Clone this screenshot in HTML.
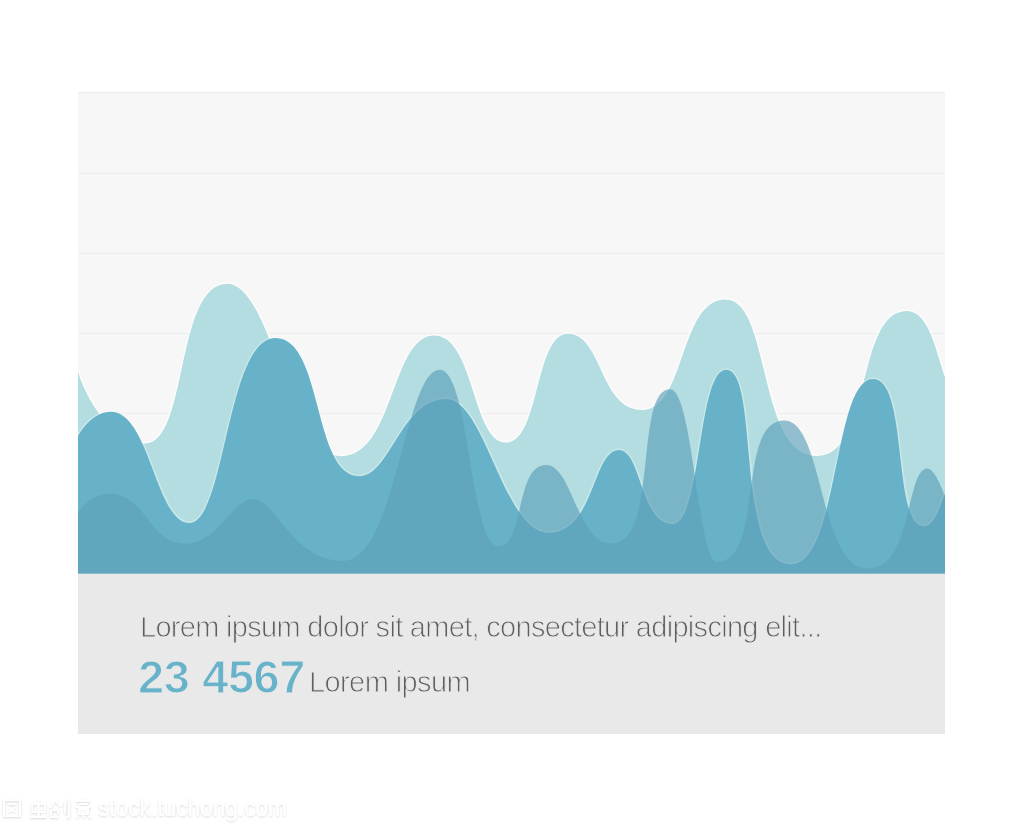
<!DOCTYPE html>
<html><head><meta charset="utf-8">
<style>
html,body{margin:0;padding:0;background:#ffffff;}
body{width:1023px;height:827px;position:relative;overflow:hidden;font-family:"Liberation Sans",sans-serif;}
.t{position:absolute;white-space:nowrap;line-height:1;will-change:transform;paint-order:fill stroke;}
</style></head><body>
<svg width="1023" height="827" style="position:absolute;left:0;top:0">
<rect x="78" y="92" width="867" height="482" fill="#f7f7f7"/>
<rect x="78" y="573.5" width="867" height="160.5" fill="#e9e9e9"/>
<rect x="78" y="92" width="867" height="1.2" fill="#ededed"/>
<rect x="78" y="173" width="867" height="1" fill="#ededed"/>
<rect x="78" y="253" width="867" height="1" fill="#ededed"/>
<rect x="78" y="333" width="867" height="1" fill="#ededed"/>
<rect x="78" y="413" width="867" height="1" fill="#ededed"/>
<path d="M78.0,372.0 C89.6,409.0 118.1,443.5 145.0,443.5 C188.5,443.5 174.9,283.7 227.6,283.7 C270.7,283.7 290.7,456.2 341.0,456.2 C394.2,456.2 391.1,335.5 434.2,335.5 C474.6,335.5 472.0,442.6 506.0,442.6 C540.0,442.6 534.5,333.8 567.9,333.8 C602.2,333.8 599.8,410.0 641.9,410.0 C685.7,410.0 679.3,299.4 725.5,299.4 C771.1,299.4 756.8,456.0 817.0,456.0 C872.2,456.0 855.5,311.0 906.7,311.0 C928.1,311.0 935.1,347.6 945.0,377.3" fill="none" stroke="rgba(255,255,255,0.6)" stroke-width="3"/>
<path d="M78,573.5 L78.0,372.0 C89.6,409.0 118.1,443.5 145.0,443.5 C188.5,443.5 174.9,283.7 227.6,283.7 C270.7,283.7 290.7,456.2 341.0,456.2 C394.2,456.2 391.1,335.5 434.2,335.5 C474.6,335.5 472.0,442.6 506.0,442.6 C540.0,442.6 534.5,333.8 567.9,333.8 C602.2,333.8 599.8,410.0 641.9,410.0 C685.7,410.0 679.3,299.4 725.5,299.4 C771.1,299.4 756.8,456.0 817.0,456.0 C872.2,456.0 855.5,311.0 906.7,311.0 C928.1,311.0 935.1,347.6 945.0,377.3 L945,573.5 Z" fill="#b3dde0"/>
<path d="M78.0,436.3 C81.8,428.7 94.1,411.8 110.9,411.8 C149.6,411.8 156.0,523.0 189.3,523.0 C225.6,523.0 226.6,338.0 275.5,338.0 C323.3,338.0 312.6,476.2 359.3,476.2 C390.5,476.2 400.8,399.0 446.2,399.0 C485.1,399.0 503.8,532.8 548.3,532.8 C595.0,532.8 592.4,450.0 619.0,450.0 C641.4,450.0 640.2,524.0 672.4,524.0 C702.0,524.0 697.3,369.7 726.2,369.7 C760.3,369.7 734.4,564.3 790.8,564.3 C839.3,564.3 833.1,379.0 873.0,379.0 C908.8,379.0 891.9,526.3 924.0,526.3 C934.9,526.3 940.9,503.5 945.0,493.6" fill="none" stroke="rgba(255,255,255,0.3)" stroke-width="3"/>
<path d="M78,573.5 L78.0,436.3 C81.8,428.7 94.1,411.8 110.9,411.8 C149.6,411.8 156.0,523.0 189.3,523.0 C225.6,523.0 226.6,338.0 275.5,338.0 C323.3,338.0 312.6,476.2 359.3,476.2 C390.5,476.2 400.8,399.0 446.2,399.0 C485.1,399.0 503.8,532.8 548.3,532.8 C595.0,532.8 592.4,450.0 619.0,450.0 C641.4,450.0 640.2,524.0 672.4,524.0 C702.0,524.0 697.3,369.7 726.2,369.7 C760.3,369.7 734.4,564.3 790.8,564.3 C839.3,564.3 833.1,379.0 873.0,379.0 C908.8,379.0 891.9,526.3 924.0,526.3 C934.9,526.3 940.9,503.5 945.0,493.6 L945,573.5 Z" fill="#67b2c8"/>
<path d="M78,573.5 L78.0,512.0 C87.1,501.1 97.1,493.7 110.0,493.7 C145.8,493.7 148.5,543.7 186.0,543.7 C217.5,543.7 232.8,499.0 252.7,499.0 C275.6,499.0 292.4,561.0 343.0,561.0 C395.9,561.0 404.8,369.7 439.7,369.7 C469.8,369.7 469.9,546.3 498.4,546.3 C525.0,546.3 514.8,464.9 546.1,464.9 C572.4,464.9 577.3,543.7 611.4,543.7 C659.4,543.7 634.0,389.3 670.2,389.3 C693.0,389.3 697.9,562.0 716.8,562.0 C765.5,562.0 735.5,420.4 784.3,420.4 C823.9,420.4 819.3,568.7 867.5,568.7 C913.3,568.7 905.7,468.6 927.3,468.6 C934.6,468.6 941.4,487.9 945.0,495.8 L945,573.5 Z" fill="rgba(92,159,186,0.65)"/>
</svg>
<div class="t" id="t1" style="left:140px;top:613px;font-size:29px;letter-spacing:-0.7px;color:#5e5e5e;-webkit-text-stroke:0.9px #e9e9e9;">Lorem ipsum dolor sit amet, consectetur adipiscing elit...</div>
<div class="t" id="t2" style="left:138px;top:652.5px;font-size:47px;letter-spacing:-0.4px;font-weight:bold;color:#68b3ca;-webkit-text-stroke:1.2px #e9e9e9;">23 4567</div>
<div class="t" id="t3" style="left:308.5px;top:668px;font-size:29px;letter-spacing:-0.6px;color:#5e5e5e;-webkit-text-stroke:0.9px #e9e9e9;">Lorem ipsum</div>
<svg width="300" height="40" style="position:absolute;left:0;top:790px">
<defs><filter id="sh" x="-10%" y="-40%" width="120%" height="180%"><feGaussianBlur in="SourceAlpha" stdDeviation="1.3"/><feOffset dx="0" dy="1" result="b"/><feFlood flood-color="#000" flood-opacity="0.16"/><feComposite in2="b" operator="in"/><feMerge><feMergeNode/><feMergeNode in="SourceGraphic"/></feMerge></filter></defs>
<g filter="url(#sh)" fill="none" stroke="#fff" stroke-width="1.8">
<rect x="4" y="10" width="16" height="16"/><path d="M8,14 L16,14 M9,18 L15,22 M15,17 L9,22 M11,24 L14,25"/>
<rect x="32" y="14" width="13" height="8"/><path d="M38.5,9 L38.5,27 M30,27 L46,27 M42,24 L45,26"/>
<path d="M55,10 L50,18 M55,10 L61,16 M51,20 L51,27 L58,27 M52,20 L58,20 L58,24 M65,11 L65,24 M69,9 L69,27 L67,27"/>
<path d="M76,11 L90,11 M82,8 L83,11 M79,14 L88,14 M76,17 L91,17 M79,19 L88,19 L88,24 L79,24 Z M79,21.5 L88,21.5 M78,26 L77,28 M82,25.5 L85,27.5 M89,26 L91,28"/>
</g>
<text x="98" y="26" font-family="Liberation Sans, sans-serif" font-size="23" fill="#fff" filter="url(#sh)" textLength="189" lengthAdjust="spacingAndGlyphs">stock.tuchong.com</text>
</svg>
</body></html>
